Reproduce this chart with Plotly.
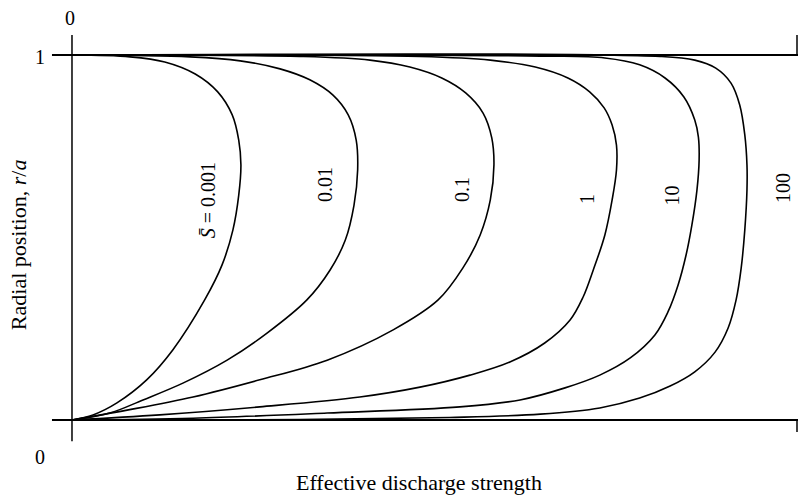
import plotly.graph_objects as go

# ---- data ----
curve_labels = ["<i>S̄</i> = 0.001", "0.01", "0.1", "1", "10", "100"]

x_s0001 = [0, 0.029, 0.062, 0.103, 0.139, 0.183, 0.207, 0.222, 0.230, 0.233, 0.230, 0.221, 0.201, 0.170, 0.128, 0.080, 0]
y_s0001 = [0, 0.014, 0.047, 0.110, 0.192, 0.329, 0.425, 0.521, 0.616, 0.699, 0.767, 0.836, 0.899, 0.948, 0.981, 0.995, 1]

x_s001 = [0, 0.052, 0.098, 0.153, 0.214, 0.269, 0.324, 0.356, 0.377, 0.389, 0.394, 0.392, 0.381, 0.360, 0.328, 0.287, 0.232, 0.163, 0]
y_s001 = [0, 0.019, 0.055, 0.101, 0.164, 0.238, 0.329, 0.411, 0.493, 0.589, 0.685, 0.767, 0.836, 0.890, 0.932, 0.962, 0.984, 0.995, 1]

x_s01 = [0, 0.076, 0.167, 0.259, 0.352, 0.443, 0.505, 0.539, 0.563, 0.577, 0.582, 0.579, 0.567, 0.543, 0.510, 0.466, 0.411, 0.314, 0]
y_s01 = [0, 0.027, 0.063, 0.110, 0.164, 0.247, 0.329, 0.416, 0.507, 0.603, 0.699, 0.773, 0.841, 0.896, 0.937, 0.967, 0.986, 0.996, 1]

x_s1 = [0, 0.121, 0.259, 0.397, 0.480, 0.549, 0.604, 0.652, 0.687, 0.705, 0.719, 0.735, 0.745, 0.751, 0.751, 0.745, 0.734, 0.714, 0.684, 0.639, 0.577, 0.480, 0]
y_s1 = [0, 0.014, 0.036, 0.063, 0.090, 0.123, 0.159, 0.211, 0.274, 0.337, 0.411, 0.507, 0.603, 0.685, 0.753, 0.808, 0.855, 0.899, 0.937, 0.967, 0.986, 0.996, 1]

x_s10 = [0, 0.167, 0.352, 0.535, 0.618, 0.680, 0.728, 0.770, 0.804, 0.822, 0.836, 0.847, 0.855, 0.862, 0.865, 0.864, 0.859, 0.844, 0.818, 0.783, 0.735, 0.646, 0]
y_s10 = [0, 0.005, 0.019, 0.036, 0.055, 0.088, 0.123, 0.170, 0.233, 0.296, 0.370, 0.452, 0.534, 0.630, 0.712, 0.775, 0.822, 0.885, 0.937, 0.973, 0.992, 0.997, 1]

x_s100 = [0, 0.314, 0.521, 0.646, 0.728, 0.783, 0.825, 0.859, 0.887, 0.905, 0.916, 0.923, 0.928, 0.931, 0.931, 0.928, 0.921, 0.909, 0.888, 0.859, 0.811, 0]
y_s100 = [0, 0.001, 0.007, 0.016, 0.033, 0.060, 0.093, 0.132, 0.186, 0.252, 0.329, 0.416, 0.521, 0.630, 0.699, 0.781, 0.863, 0.923, 0.964, 0.986, 0.996, 1]

curves_x = [x_s0001, x_s001, x_s01, x_s1, x_s10, x_s100]
curves_y = [y_s0001, y_s001, y_s01, y_s1, y_s10, y_s100]

# label anchor positions (data units)
label_x = [0.188, 0.349, 0.538, 0.710, 0.828, 0.981]
label_y = [0.603, 0.644, 0.630, 0.605, 0.616, 0.636]

# ---- figure ----
SERIF = "Liberation Serif, Times New Roman, serif"
fig = go.Figure()

for cx, cy, name in zip(curves_x, curves_y, curve_labels):
    fig.add_trace(go.Scatter(x=cx, y=cy, mode="lines", name=name,
                             line=dict(color="black", width=1.6, shape="spline", smoothing=1.0),
                             showlegend=False, hoverinfo="skip"))

for lx, ly, t in zip(label_x, label_y, curve_labels):
    fig.add_annotation(x=lx, y=ly, text=t, textangle=-90, showarrow=False,
                       font=dict(family=SERIF, size=20, color="black"))

# frame lines
line_style = dict(color="black", width=2)
fig.add_shape(type="line", x0=-0.0276, x1=1.01, y0=1, y1=1, line=line_style)
fig.add_shape(type="line", x0=-0.0276, x1=1.01, y0=0, y1=0, line=line_style)
fig.add_shape(type="line", x0=0, x1=0, y0=1.055, y1=-0.058, line=dict(color="black", width=1.5))
fig.add_shape(type="line", x0=1, x1=1, y0=1, y1=1.055, line=dict(color="black", width=1.5))
fig.add_shape(type="line", x0=1, x1=1, y0=0, y1=-0.033, line=dict(color="black", width=1.5))

# tick labels
tick_font = dict(family=SERIF, size=20, color="black")
fig.add_annotation(x=-0.003, y=1.101, text="0", showarrow=False, font=tick_font)
fig.add_annotation(x=-0.044, y=0.995, text="1", showarrow=False, font=tick_font)
fig.add_annotation(x=-0.044, y=-0.101, text="0", showarrow=False, font=tick_font)
fig.add_annotation(x=1.0055, y=1.096, text="1", showarrow=False, font=tick_font)
fig.add_annotation(x=1.0055, y=-0.074, text="1", showarrow=False, font=tick_font)

# axis titles
title_font = dict(family=SERIF, size=22, color="black")
fig.add_annotation(x=0.478, y=-0.170, text="Effective discharge strength", showarrow=False, font=title_font)
fig.add_annotation(x=-0.074, y=0.48, text="Radial position, <i>r</i>/<i>a</i>", textangle=-90,
                   showarrow=False, font=title_font)

fig.update_layout(
    width=798, height=498,
    margin=dict(l=0, r=0, t=0, b=0),
    paper_bgcolor="white", plot_bgcolor="white",
    xaxis=dict(range=[-0.0993, 1.00138], visible=False, fixedrange=True),
    yaxis=dict(range=[-0.2137, 1.1507], visible=False, fixedrange=True),
)

fig.write_html("out.html", config={"displayModeBar": False})
